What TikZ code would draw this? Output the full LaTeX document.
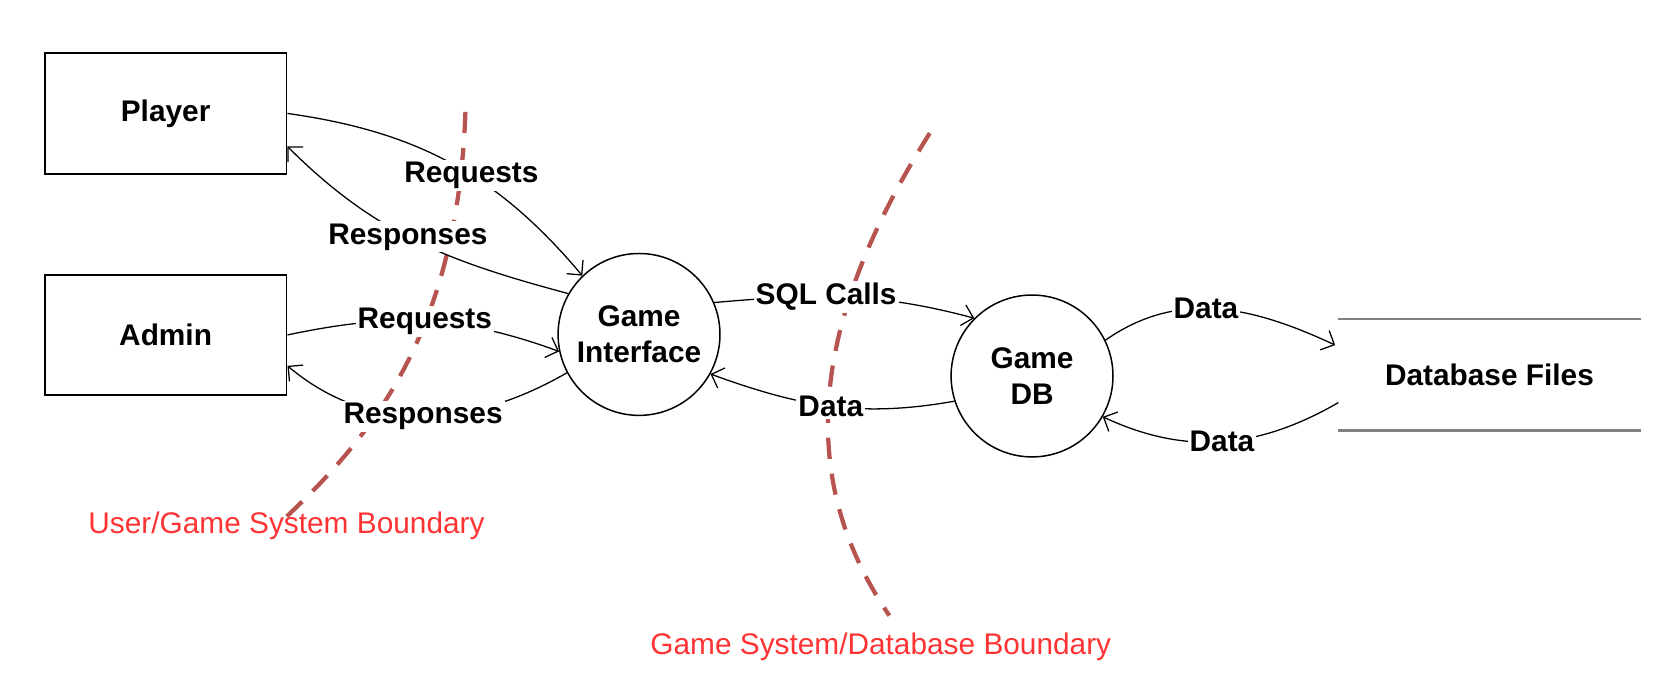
\documentclass[tikz,border=0pt]{standalone}
\usepackage{fontspec}
\setmainfont{Liberation Sans}
\usetikzlibrary{arrows.meta,calc}
\definecolor{bndline}{HTML}{B85450}
\definecolor{bndtext}{HTML}{FF3333}

\begin{document}
\begin{tikzpicture}[x=0.5pt, y=-0.5pt,
	font=\fontsize{14}{17}\selectfont\bfseries,
	entity/.style={draw, line width=0.9pt, minimum width=113.5pt, minimum height=56.5pt},
	process/.style={draw, circle, line width=0.7pt, minimum size=76pt, align=center, inner sep=0pt},
	flow/.style={line width=0.6pt, -{Straight Barb[length=5pt, width=10pt]}},
	flowlabel/.style={fill=white, inner sep=1pt},
	boundary/.style={bndline, line width=2pt, dash pattern=on 10pt off 7pt},
	boundlabel/.style={text=bndtext, font=\fontsize{14}{17}\selectfont}]
	\useasboundingbox (0,0) rectangle (1568,638);

	\node [entity] (player) at (155.5,106.5) {Player};
	\node [entity] (admin) at (155.5,314.5) {Admin};
	\node [process] (gi) at (600,314) {Game\\Interface};
	\node [process] (gdb) at (969,353) {Game\\DB};
	\node [minimum width=141.5pt, minimum height=52pt] (dbf) at (1398.5,352) {Database Files};
	\draw [gray, line width=1.2pt] (dbf.north west) -- (dbf.north east);
	\draw [gray, line width=1.2pt] (dbf.south west) -- (dbf.south east);

	\coordinate (UG_top) at (437,105);
	\coordinate (UG_bot) at (268,486);
	\draw [boundary] (UG_top) .. controls (430,300) and (360,400) .. (UG_bot);
	\node [boundlabel] (ug_label) at (269,494) {User/Game System Boundary};
	\coordinate (GD_top) at (873,125);
	\coordinate (GD_bot) at (835,578);
	\draw [boundary] (GD_top) .. controls (750,320) and (755,460) .. (GD_bot);
	\node [boundlabel] (gd_label) at (827,607) {Game System/Database Boundary};

	\draw [flow] (player.east) to [out=-8, in=130] node [flowlabel, pos=0.57] {Requests} (gi.134);
	\draw [flow] (gi.150) to [out=165, in=-45] node [flowlabel, pos=0.53] {Responses} ($(player.east)+(0,31)$);
	\draw [flow] (admin.east) to [out=12, in=160] node [flowlabel, pos=0.5] {Requests} (gi.192);
	\draw [flow] (gi.208) to [out=210, in=-40] node [flowlabel, pos=0.5] {Responses} ($(admin.east)+(0,29)$);
	\draw [flow] (gi.23) to [out=5, in=165] node [flowlabel, pos=0.42] {SQL Calls} (gdb.135);
	\draw [flow] (gdb.198) to [out=190, in=-20] node [flowlabel, pos=0.5] {Data} (gi.-29);
	\draw [flow] (gdb.26) to [out=35, in=155] node [flowlabel, pos=0.45] {Data} ($(dbf.west)+(-3,-28)$);
	\draw [flow] ($(dbf.west)+(0,26)$) to [out=210, in=-25] node [flowlabel, pos=0.5] {Data} (gdb.-30);
\end{tikzpicture}
\end{document}
